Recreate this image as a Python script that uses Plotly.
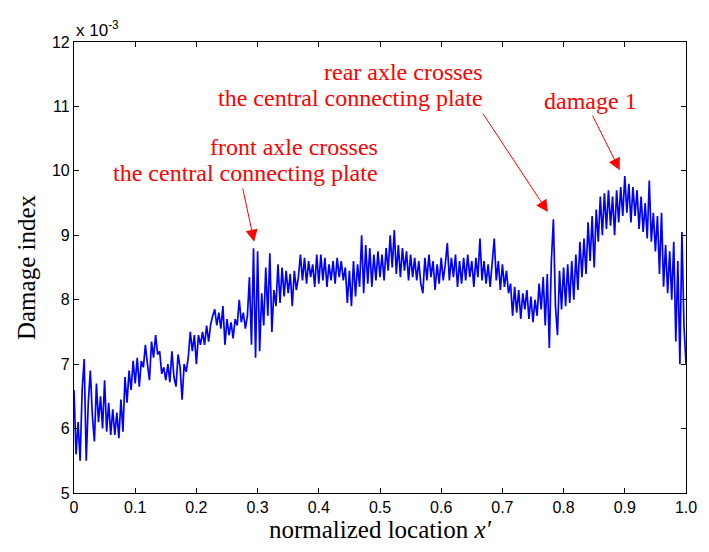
import numpy as np
import plotly.graph_objects as go

# Damage index values (units of 1e-3), read at uniform spacing over x' in [0, 1]
damage_index = [
    6.6, 5.6, 6.1, 5.5, 6.6, 7.08, 5.5, 6.4, 6.9, 6.2,
    5.8, 6.7, 6.1, 6.5, 6.0, 6.75, 5.95, 6.4, 5.9, 6.3,
    5.9, 6.25, 5.85, 6.45, 5.95, 6.8, 6.4, 6.9, 6.6, 7.05,
    6.7, 7.1, 6.65, 7.05, 6.95, 7.3, 7.0, 6.75, 7.35, 7.1,
    7.45, 7.15, 7.2, 6.85, 6.95, 6.75, 7.0, 6.72, 7.2, 6.8,
    6.65, 7.15, 6.95, 6.45, 7.0, 6.88, 7.1, 7.5, 7.2, 7.45,
    7.0, 7.45, 7.3, 7.5, 7.3, 7.6, 7.35, 7.62, 7.75, 7.85,
    7.6, 7.8, 7.55, 7.9, 7.3, 7.7, 7.45, 7.65, 7.4, 7.7,
    7.6, 8.0, 7.65, 7.8, 7.55, 7.75, 8.35, 7.3, 8.8, 7.1,
    8.75, 7.2, 8.1, 7.6, 8.5, 7.75, 8.72, 7.5, 8.15, 7.9,
    8.55, 7.95, 8.5, 8.05, 8.45, 8.1, 8.4, 7.9, 8.45, 8.15,
    8.35, 8.7, 8.3, 8.65, 8.25, 8.6, 8.35, 8.55, 8.2, 8.7,
    8.25, 8.7, 8.3, 8.65, 8.2, 8.55, 8.3, 8.6, 8.25, 8.65,
    8.35, 8.6, 8.3, 8.5, 7.95, 8.45, 7.9, 8.6, 8.05, 8.55,
    8.2, 9.0, 8.1, 8.85, 8.25, 8.8, 8.2, 8.7, 8.3, 8.75,
    8.35, 8.7, 8.3, 8.8, 8.45, 9.0, 8.5, 9.08, 8.4, 8.85,
    8.35, 8.8, 8.45, 8.75, 8.3, 8.7, 8.35, 8.65, 8.3, 8.6,
    8.25, 8.1, 8.65, 8.3, 8.7, 8.35, 8.6, 8.15, 8.55, 8.25,
    8.65, 8.3, 8.55, 8.88, 8.3, 8.65, 8.35, 8.7, 8.2, 8.6,
    8.25, 8.65, 8.3, 8.7, 8.35, 8.6, 8.2, 8.65, 8.35, 8.95,
    8.3, 8.6, 8.25, 8.55, 8.2, 8.65, 8.95, 8.3, 8.6, 8.15,
    8.55, 8.2, 8.45, 8.1, 8.25, 7.75, 8.2, 7.8, 8.15, 7.7,
    8.1, 7.85, 8.15, 7.7, 8.05, 7.65, 8.0, 7.75, 8.25, 7.85,
    8.35, 7.6, 8.4, 7.25, 8.6, 9.25, 7.9, 7.45, 8.45, 7.85,
    8.5, 7.9, 8.55, 7.95, 8.6, 8.0, 8.7, 8.15, 8.9, 8.35,
    8.95, 8.4, 9.2, 8.6, 9.3, 8.5, 9.4, 8.9, 9.6, 9.0,
    9.65, 9.1, 9.7, 9.15, 9.6, 9.0, 9.7, 9.2, 9.75, 9.3,
    9.92, 9.35, 9.8, 9.2, 9.75, 9.3, 9.7, 9.1, 9.6, 9.05,
    9.5, 8.95, 9.85, 8.9, 9.35, 8.75, 9.3, 8.4, 9.35, 8.2,
    8.85, 8.1, 8.75, 8.0, 8.9, 7.35, 8.6, 7.0, 9.05, 7.6,
    7.0,
]
location = np.linspace(0.0, 1.0, len(damage_index))

x_tick_vals = [0, 0.1, 0.2, 0.3, 0.4, 0.5, 0.6, 0.7, 0.8, 0.9, 1.0]
x_tick_text = ["0", "0.1", "0.2", "0.3", "0.4", "0.5", "0.6", "0.7", "0.8", "0.9", "1.0"]
y_tick_vals = [5, 6, 7, 8, 9, 10, 11, 12]

serif = "Liberation Serif, Times New Roman, serif"
sans = "Liberation Sans, Arial, sans-serif"

fig = go.Figure()
fig.add_trace(go.Scatter(
    x=location, y=damage_index, mode="lines",
    line=dict(color="#0000ff", width=1.7),
    showlegend=False, hoverinfo="skip",
))

axis_common = dict(
    showline=True, linecolor="#000000", linewidth=1.2, mirror="ticks",
    ticks="inside", ticklen=5, tickwidth=1, tickcolor="#000000",
    showgrid=False, zeroline=False,
    tickfont=dict(family=sans, size=16, color="#000000"),
)

fig.update_layout(
    width=709, height=552,
    margin=dict(l=74, r=21, t=42, b=59),
    paper_bgcolor="white", plot_bgcolor="white",
    xaxis=dict(range=[0, 1], tickvals=x_tick_vals, ticktext=x_tick_text,
               title=dict(text="normalized location <i>x′</i>",
                          font=dict(family=serif, size=25, color="#000000"),
                          standoff=5),
               **axis_common),
    yaxis=dict(range=[5, 12], tickvals=y_tick_vals,
               title=dict(text="Damage index",
                          font=dict(family=serif, size=25, color="#000000"),
                          standoff=9),
               **axis_common),
)

red = "#ff0000"
fig.add_annotation(x=0, y=1, xref="paper", yref="paper", xanchor="left", yanchor="bottom",
                   text="x 10<sup>-3</sup>", showarrow=False, yshift=0,
                   font=dict(family=sans, size=17, color="#000000"))

# text labels, one annotation per line
label_lines = ["front axle crosses", "the central connecting plate",
               "rear axle crosses", "the central connecting plate",
               "damage 1"]
label_x = [0.4995, 0.4995, 0.671, 0.671, 0.8445]
label_y = [10.37, 9.967, 11.534, 11.131, 11.084]
label_anchor = ["right", "right", "right", "right", "center"]
for text, lx, ly, anchor in zip(label_lines, label_x, label_y, label_anchor):
    fig.add_annotation(x=lx, y=ly, xref="x", yref="y", text=text, showarrow=False,
                       xanchor=anchor, yanchor="middle",
                       font=dict(family=serif, size=24, color=red))

arrow_tip_x = [0.2944, 0.7744, 0.8918]
arrow_tip_y = [8.90, 9.36, 10.01]
arrow_tail_x = [0.2752, 0.6667, 0.8461]
arrow_tail_y = [9.75, 10.91, 10.88]
for tx, ty, sx, sy in zip(arrow_tip_x, arrow_tip_y, arrow_tail_x, arrow_tail_y):
    fig.add_annotation(x=tx, y=ty, ax=sx, ay=sy, xref="x", yref="y", axref="x", ayref="y",
                       text="", showarrow=True, arrowhead=2, arrowsize=2.4,
                       arrowwidth=1, arrowcolor=red)

fig.write_html("out.html")
